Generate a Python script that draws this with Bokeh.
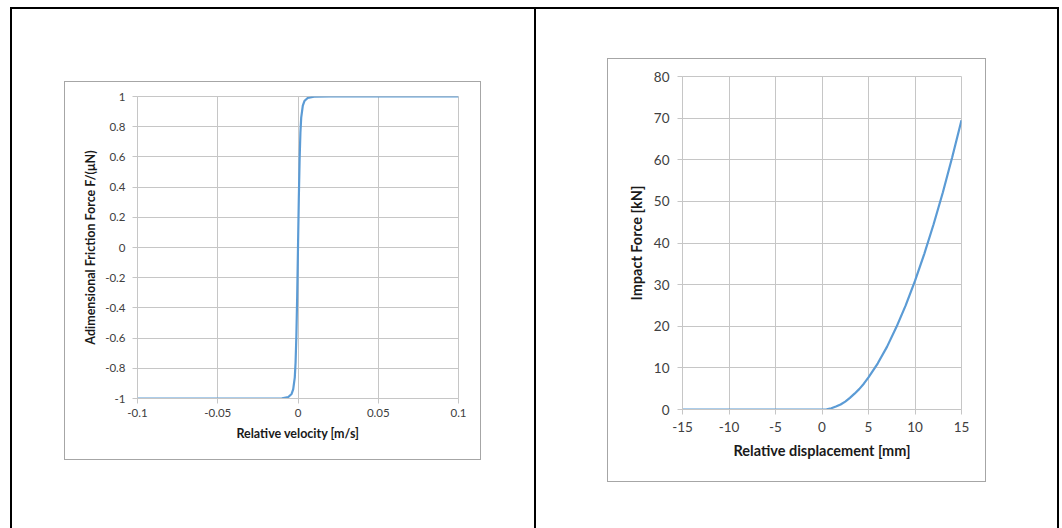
from bokeh.plotting import figure
from bokeh.layouts import row, column
from bokeh.models import Spacer, FixedTicker
from bokeh.embed import file_html
from bokeh.resources import INLINE

# ---- data ----
vel = [-0.1, -0.05, -0.02, -0.01, -0.006, -0.004, -0.003, -0.002, -0.0015, -0.001, -0.0005,
       0.0, 0.0005, 0.001, 0.0015, 0.002, 0.003, 0.004, 0.006, 0.01, 0.02, 0.05, 0.1]
fric = [-1.0, -1.0, -1.0, -0.999, -0.99, -0.97, -0.94, -0.86, -0.76, -0.58, -0.32,
        0.0, 0.32, 0.58, 0.76, 0.86, 0.94, 0.97, 0.99, 0.999, 1.0, 1.0, 1.0]
vel_ticks = [-0.1, -0.05, 0, 0.05, 0.1]
vel_labels = ["-0.1", "-0.05", "0", "0.05", "0.1"]
fric_ticks = [-1, -0.8, -0.6, -0.4, -0.2, 0, 0.2, 0.4, 0.6, 0.8, 1]
fric_labels = ["-1", "-0.8", "-0.6", "-0.4", "-0.2", "0", "0.2", "0.4", "0.6", "0.8", "1"]

disp = [-15, -10, -5, 0, 0.5, 1, 1.5, 2, 2.5, 3, 3.5, 4, 4.5, 5, 6, 7, 8, 9, 10, 11, 12, 13, 14, 15]
force = [0, 0, 0, 0, 0.05, 0.3, 0.7, 1.2, 1.9, 2.8, 3.8, 4.9, 6.2, 7.7, 11.1, 15.1, 19.8, 25.0,
         30.9, 37.4, 44.5, 52.2, 60.6, 69.5]
disp_ticks = [-15, -10, -5, 0, 5, 10, 15]
disp_labels = ["-15", "-10", "-5", "0", "5", "10", "15"]
force_ticks = [0, 10, 20, 30, 40, 50, 60, 70, 80]
force_labels = ["0", "10", "20", "30", "40", "50", "60", "70", "80"]

FONT = "Lato"
LINE = "#5B9BD5"
GRID = "#c6c6c6"
BOX = "#a6a6a6"
TICKTXT = "#404040"


def style(p, xt, xl, yt, yl, xlab, ylab, tick_fs, lab_fs, xstand, ystand, xlstand, ylstand, tout):
    p.xaxis.ticker = FixedTicker(ticks=xt)
    p.yaxis.ticker = FixedTicker(ticks=yt)
    p.xaxis.major_label_overrides = {t: s for t, s in zip(xt, xl)}
    p.yaxis.major_label_overrides = {t: s for t, s in zip(yt, yl)}
    for ax in (p.xaxis[0], p.yaxis[0]):
        ax.axis_line_color = GRID
        ax.major_tick_line_color = GRID
        ax.major_tick_in = 0
        ax.major_tick_out = tout
        ax.minor_tick_line_color = None
        ax.major_label_text_font = FONT
        ax.major_label_text_font_size = tick_fs
        ax.major_label_text_color = TICKTXT
        ax.axis_label_text_font = FONT
        ax.axis_label_text_font_size = lab_fs
        ax.axis_label_text_font_style = "bold"
        ax.axis_label_text_color = "#1a1a1a"
    p.xaxis.axis_label = xlab
    p.yaxis.axis_label = ylab
    p.xaxis.major_label_standoff = xstand
    p.yaxis.major_label_standoff = ystand
    p.xaxis.axis_label_standoff = xlstand
    p.yaxis.axis_label_standoff = ylstand
    p.yaxis.major_label_orientation = "horizontal"
    p.xgrid.ticker = FixedTicker(ticks=xt)
    p.ygrid.ticker = FixedTicker(ticks=yt)
    p.xgrid.grid_line_color = GRID
    p.ygrid.grid_line_color = GRID
    p.outline_line_color = GRID
    p.background_fill_color = "white"
    p.border_fill_color = "white"


# ---- left chart ----
p1 = figure(width=415, height=377, x_range=(-0.1, 0.1), y_range=(-1, 1),
            output_backend="svg", toolbar_location=None,
            min_border_left=72, min_border_right=22, min_border_top=14, min_border_bottom=61)
style(p1, vel_ticks, vel_labels, fric_ticks, fric_labels,
      "Relative velocity [m/s]", "Adimensional Friction Force F/(\u03bcN)",
      "11.5px", "12.5px", 5, 7, 6, 4, 5)
p1.line(vel, fric, line_color=LINE, line_width=2.2)

# ---- right chart ----
p2 = figure(width=377, height=422, x_range=(-15, 15), y_range=(0, 80),
            output_backend="svg", toolbar_location=None,
            min_border_left=74, min_border_right=24, min_border_top=17, min_border_bottom=72)
style(p2, disp_ticks, disp_labels, force_ticks, force_labels,
      "Relative displacement [mm]", "Impact Force [kN]",
      "13.5px", "14.5px", 7, 8, 7, 6, 5)
p2.line(disp, force, line_color=LINE, line_width=2.2)


def sp(w, h, color=None):
    if color:
        return Spacer(width=w, height=h, styles={"background-color": color})
    return Spacer(width=w, height=h)


def boxed(p, w, h):
    return column(
        sp(w + 2, 1, BOX),
        row(sp(1, h, BOX), p, sp(1, h, BOX), spacing=0),
        sp(w + 2, 1, BOX),
        spacing=0,
    )


H = 519
cell1 = column(sp(522, 72), row(sp(52, 379), boxed(p1, 415, 377), spacing=0), spacing=0)
cell2 = column(sp(521, 49), row(sp(71, 424), boxed(p2, 377, 422), spacing=0), spacing=0)

layout = column(
    sp(1059, 7),
    row(
        sp(10, H + 2),
        column(
            sp(1049, 2, "black"),
            row(sp(2, H, "black"),
                column(cell1, sp(522, H - 72 - 379), spacing=0),
                sp(2, H, "black"),
                column(cell2, sp(521, H - 49 - 424), spacing=0),
                sp(2, H, "black"),
                spacing=0),
            spacing=0),
        spacing=0,
    ),
    spacing=0,
)

open("out.html", "w").write(file_html(layout, INLINE))
